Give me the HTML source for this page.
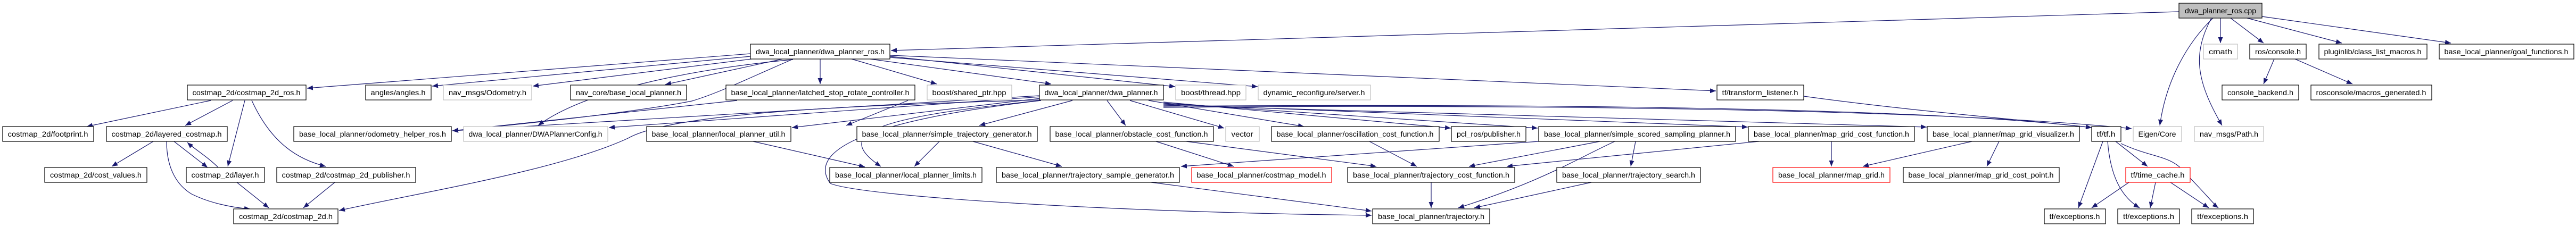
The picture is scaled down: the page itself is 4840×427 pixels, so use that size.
<!DOCTYPE html>
<html><head><meta charset="utf-8"><style>
html,body{margin:0;padding:0;background:#fff;width:4840px;height:427px;overflow:hidden}
svg{display:block}
text{font-family:"Liberation Sans",sans-serif;font-size:14px;fill:#000}
.b{fill:#fff;stroke:#000;stroke-width:1.2}
.g{fill:#fff;stroke:#bfbfbf;stroke-width:1.2}
.r{fill:#fff;stroke:#ff0000;stroke-width:1.2}
path.e{fill:none;stroke:#191970;stroke-width:1.2;marker-end:url(#a)}
</style></head><body>
<svg width="4840" height="427" viewBox="0 0 4840 427" xmlns="http://www.w3.org/2000/svg">
<defs><marker id="a" markerUnits="userSpaceOnUse" markerWidth="11" markerHeight="9" refX="11" refY="4.5" orient="auto"><path d="M0,0 L11,4.5 L0,9 z" fill="#191970"/></marker></defs>
<g>
<path class="e" d="M4094,22 L1674,95"/>
<path class="e" d="M4172,34 L4172,81"/>
<path class="e" d="M4191,34 L4253,81"/>
<path class="e" d="M4222,34 L4400,81"/>
<path class="e" d="M4250,31 L4605,81"/>
<path class="e" d="M4158,34 C4110,80 4070,150 4058,236"/>
<path class="e" d="M4155,34 C4120,100 4125,150 4175,236"/>
<path class="e" d="M1672,104 C2400,135 3000,165 3224,171"/>
<path class="e" d="M1410,101 L577,166"/>
<path class="e" d="M1410,106 L812,162"/>
<path class="e" d="M1412,111 L1001,162"/>
<path class="e" d="M1470,111 L1250,159"/>
<path class="e" d="M1541,111 L1541,158"/>
<path class="e" d="M1600,111 L1760,158"/>
<path class="e" d="M1635,111 L1975,158"/>
<path class="e" d="M1672,106 L2208,163"/>
<path class="e" d="M1672,108 L2363,163"/>
<path class="e" d="M1490,112 C1300,130 1100,170 1011,236"/>
<path class="e" d="M1488,112 C1400,150 1350,175 1300,190 C1200,210 1000,232 850,246"/>
<path class="e" d="M1955,188 C1500,200 1250,220 1180,260 C1050,320 800,360 637,396"/>
<path class="e" d="M1955,185 L1488,240"/>
<path class="e" d="M1955,182 L1144,240"/>
<path class="e" d="M1953,180 L850,246"/>
<path class="e" d="M1955,189 C1650,220 1560,250 1655,313"/>
<path class="e" d="M1956,189 C1600,230 1520,290 1560,345 C1620,370 2100,400 2577,405"/>
<path class="e" d="M2015,189 L1840,236"/>
<path class="e" d="M2080,189 L2115,236"/>
<path class="e" d="M2123,189 L2300,241"/>
<path class="e" d="M2158,189 L2450,238"/>
<path class="e" d="M2186,192 L2726,241"/>
<path class="e" d="M2186,194 L2889,241"/>
<path class="e" d="M2186,196 L3284,239"/>
<path class="e" d="M2186,198 L3620,239"/>
<path class="e" d="M2186,200 C2800,195 3600,200 3930,240"/>
<path class="e" d="M2186,202 C3000,195 3700,210 4005,242"/>
<path class="e" d="M1706,189 L1590,236"/>
<path class="e" d="M1385,189 L850,246"/>
<path class="e" d="M1415,266 L1625,314"/>
<path class="e" d="M1765,266 L1718,313"/>
<path class="e" d="M1828,266 L1995,313"/>
<path class="e" d="M2172,266 L2318,313"/>
<path class="e" d="M2229,266 L2586,313"/>
<path class="e" d="M2573,266 L2662,313"/>
<path class="e" d="M3006,266 L2760,313"/>
<path class="e" d="M3073,266 L3064,313"/>
<path class="e" d="M3034,266 C2960,300 2900,340 2740,391"/>
<path class="e" d="M2891,266 L2219,313"/>
<path class="e" d="M3305,266 L2831,313"/>
<path class="e" d="M3441,266 L3441,313"/>
<path class="e" d="M3705,266 L3500,313"/>
<path class="e" d="M3756,266 L3733,313"/>
<path class="e" d="M2163,343 L2577,397"/>
<path class="e" d="M2689,343 L2689,391"/>
<path class="e" d="M2990,343 L2770,391"/>
<path class="e" d="M3389,181 C3600,210 3800,225 3930,240"/>
<path class="e" d="M3951,266 L3905,391"/>
<path class="e" d="M3960,266 C3965,330 3985,370 4020,391"/>
<path class="e" d="M3975,266 L4035,313"/>
<path class="e" d="M3985,270 C4050,300 4080,290 4110,330 C4140,360 4160,385 4168,391"/>
<path class="e" d="M4000,343 L3930,391"/>
<path class="e" d="M4050,343 L4040,391"/>
<path class="e" d="M4078,343 L4150,391"/>
<path class="e" d="M4273,111 L4253,158"/>
<path class="e" d="M4312,111 L4420,158"/>
<path class="e" d="M396,189 L163,238"/>
<path class="e" d="M437,189 L348,236"/>
<path class="e" d="M460,189 L428,313"/>
<path class="e" d="M473,189 C510,270 560,300 612,313"/>
<path class="e" d="M288,266 L210,313"/>
<path class="e" d="M327,266 L390,315"/>
<path class="e" d="M410,315 C390,295 365,280 352,268"/>
<path class="e" d="M313,266 C313,320 335,350 360,365 C390,380 430,390 470,393"/>
<path class="e" d="M445,343 L505,391"/>
<path class="e" d="M629,343 L570,391"/>
</g>
<g>
<rect x="4094" y="6" width="156" height="28" fill="#bfbfbf" stroke="#000" stroke-width="1.2"/><text x="4172" y="25" text-anchor="middle" textLength="134" lengthAdjust="spacingAndGlyphs">dwa_planner_ros.cpp</text>
<rect class="b" x="1410" y="83" width="262" height="28"/><text x="1541" y="102" text-anchor="middle" textLength="242" lengthAdjust="spacingAndGlyphs">dwa_local_planner/dwa_planner_ros.h</text>
<rect class="g" x="4140" y="83" width="64" height="28"/><text x="4172" y="102" text-anchor="middle" textLength="44" lengthAdjust="spacingAndGlyphs">cmath</text>
<rect class="b" x="4227" y="83" width="106" height="28"/><text x="4280" y="102" text-anchor="middle" textLength="86" lengthAdjust="spacingAndGlyphs">ros/console.h</text>
<rect class="b" x="4357" y="83" width="203" height="28"/><text x="4458" y="102" text-anchor="middle" textLength="183" lengthAdjust="spacingAndGlyphs">pluginlib/class_list_macros.h</text>
<rect class="b" x="4583" y="83" width="253" height="28"/><text x="4709" y="102" text-anchor="middle" textLength="233" lengthAdjust="spacingAndGlyphs">base_local_planner/goal_functions.h</text>

<rect class="b" x="352" y="160" width="223" height="28"/><text x="463" y="179" text-anchor="middle" textLength="203" lengthAdjust="spacingAndGlyphs">costmap_2d/costmap_2d_ros.h</text>
<rect class="b" x="687" y="160" width="123" height="28"/><text x="748" y="179" text-anchor="middle" textLength="103" lengthAdjust="spacingAndGlyphs">angles/angles.h</text>
<rect class="g" x="833" y="160" width="166" height="28"/><text x="916" y="179" text-anchor="middle" textLength="146" lengthAdjust="spacingAndGlyphs">nav_msgs/Odometry.h</text>
<rect class="b" x="1072" y="160" width="218" height="28"/><text x="1181" y="179" text-anchor="middle" textLength="198" lengthAdjust="spacingAndGlyphs">nav_core/base_local_planner.h</text>
<rect class="b" x="1364" y="160" width="355" height="28"/><text x="1541" y="179" text-anchor="middle" textLength="335" lengthAdjust="spacingAndGlyphs">base_local_planner/latched_stop_rotate_controller.h</text>
<rect class="g" x="1742" y="160" width="159" height="28"/><text x="1821" y="179" text-anchor="middle" textLength="139" lengthAdjust="spacingAndGlyphs">boost/shared_ptr.hpp</text>
<rect class="b" x="1953" y="160" width="233" height="28"/><text x="2069" y="179" text-anchor="middle" textLength="213" lengthAdjust="spacingAndGlyphs">dwa_local_planner/dwa_planner.h</text>
<rect class="g" x="2209" y="160" width="132" height="28"/><text x="2275" y="179" text-anchor="middle" textLength="112" lengthAdjust="spacingAndGlyphs">boost/thread.hpp</text>
<rect class="g" x="2364" y="160" width="211" height="28"/><text x="2469" y="179" text-anchor="middle" textLength="191" lengthAdjust="spacingAndGlyphs">dynamic_reconfigure/server.h</text>
<rect class="b" x="3226" y="160" width="163" height="28"/><text x="3307" y="179" text-anchor="middle" textLength="143" lengthAdjust="spacingAndGlyphs">tf/transform_listener.h</text>
<rect class="b" x="4175" y="160" width="144" height="28"/><text x="4247" y="179" text-anchor="middle" textLength="124" lengthAdjust="spacingAndGlyphs">console_backend.h</text>
<rect class="b" x="4342" y="160" width="227" height="28"/><text x="4455" y="179" text-anchor="middle" textLength="207" lengthAdjust="spacingAndGlyphs">rosconsole/macros_generated.h</text>

<rect class="b" x="5" y="238" width="171" height="28"/><text x="90" y="257" text-anchor="middle" textLength="151" lengthAdjust="spacingAndGlyphs">costmap_2d/footprint.h</text>
<rect class="b" x="200" y="238" width="227" height="28"/><text x="313" y="257" text-anchor="middle" textLength="207" lengthAdjust="spacingAndGlyphs">costmap_2d/layered_costmap.h</text>
<rect class="b" x="552" y="238" width="296" height="28"/><text x="700" y="257" text-anchor="middle" textLength="276" lengthAdjust="spacingAndGlyphs">base_local_planner/odometry_helper_ros.h</text>
<rect class="g" x="871" y="238" width="271" height="28"/><text x="1006" y="257" text-anchor="middle" textLength="251" lengthAdjust="spacingAndGlyphs">dwa_local_planner/DWAPlannerConfig.h</text>
<rect class="b" x="1215" y="238" width="271" height="28"/><text x="1350" y="257" text-anchor="middle" textLength="251" lengthAdjust="spacingAndGlyphs">base_local_planner/local_planner_util.h</text>
<rect class="b" x="1610" y="238" width="339" height="28"/><text x="1779" y="257" text-anchor="middle" textLength="319" lengthAdjust="spacingAndGlyphs">base_local_planner/simple_trajectory_generator.h</text>
<rect class="b" x="1973" y="238" width="307" height="28"/><text x="2126" y="257" text-anchor="middle" textLength="287" lengthAdjust="spacingAndGlyphs">base_local_planner/obstacle_cost_function.h</text>
<rect class="g" x="2303" y="238" width="63" height="28"/><text x="2334" y="257" text-anchor="middle" textLength="41" lengthAdjust="spacingAndGlyphs">vector</text>
<rect class="b" x="2389" y="238" width="315" height="28"/><text x="2546" y="257" text-anchor="middle" textLength="295" lengthAdjust="spacingAndGlyphs">base_local_planner/oscillation_cost_function.h</text>
<rect class="b" x="2727" y="238" width="140" height="28"/><text x="2797" y="257" text-anchor="middle" textLength="120" lengthAdjust="spacingAndGlyphs">pcl_ros/publisher.h</text>
<rect class="b" x="2891" y="238" width="370" height="28"/><text x="3076" y="257" text-anchor="middle" textLength="350" lengthAdjust="spacingAndGlyphs">base_local_planner/simple_scored_sampling_planner.h</text>
<rect class="b" x="3285" y="238" width="312" height="28"/><text x="3441" y="257" text-anchor="middle" textLength="292" lengthAdjust="spacingAndGlyphs">base_local_planner/map_grid_cost_function.h</text>
<rect class="b" x="3621" y="238" width="286" height="28"/><text x="3764" y="257" text-anchor="middle" textLength="266" lengthAdjust="spacingAndGlyphs">base_local_planner/map_grid_visualizer.h</text>
<rect class="b" x="3930" y="238" width="55" height="28"/><text x="3957" y="257" text-anchor="middle" textLength="35" lengthAdjust="spacingAndGlyphs">tf/tf.h</text>
<rect class="g" x="4008" y="238" width="91" height="28"/><text x="4053" y="257" text-anchor="middle" textLength="71" lengthAdjust="spacingAndGlyphs">Eigen/Core</text>
<rect class="g" x="4123" y="238" width="130" height="28"/><text x="4188" y="257" text-anchor="middle" textLength="110" lengthAdjust="spacingAndGlyphs">nav_msgs/Path.h</text>

<rect class="b" x="84" y="315" width="192" height="28"/><text x="180" y="334" text-anchor="middle" textLength="172" lengthAdjust="spacingAndGlyphs">costmap_2d/cost_values.h</text>
<rect class="b" x="350" y="315" width="147" height="28"/><text x="423" y="334" text-anchor="middle" textLength="127" lengthAdjust="spacingAndGlyphs">costmap_2d/layer.h</text>
<rect class="b" x="520" y="315" width="261" height="28"/><text x="650" y="334" text-anchor="middle" textLength="241" lengthAdjust="spacingAndGlyphs">costmap_2d/costmap_2d_publisher.h</text>
<rect class="b" x="1559" y="315" width="286" height="28"/><text x="1702" y="334" text-anchor="middle" textLength="266" lengthAdjust="spacingAndGlyphs">base_local_planner/local_planner_limits.h</text>
<rect class="b" x="1872" y="315" width="344" height="28"/><text x="2044" y="334" text-anchor="middle" textLength="324" lengthAdjust="spacingAndGlyphs">base_local_planner/trajectory_sample_generator.h</text>
<rect class="r" x="2239" y="315" width="263" height="28"/><text x="2370" y="334" text-anchor="middle" textLength="243" lengthAdjust="spacingAndGlyphs">base_local_planner/costmap_model.h</text>
<rect class="b" x="2532" y="315" width="314" height="28"/><text x="2689" y="334" text-anchor="middle" textLength="294" lengthAdjust="spacingAndGlyphs">base_local_planner/trajectory_cost_function.h</text>
<rect class="b" x="2925" y="315" width="270" height="28"/><text x="3060" y="334" text-anchor="middle" textLength="250" lengthAdjust="spacingAndGlyphs">base_local_planner/trajectory_search.h</text>
<rect class="r" x="3331" y="315" width="220" height="28"/><text x="3441" y="334" text-anchor="middle" textLength="200" lengthAdjust="spacingAndGlyphs">base_local_planner/map_grid.h</text>
<rect class="b" x="3576" y="315" width="293" height="28"/><text x="3722" y="334" text-anchor="middle" textLength="273" lengthAdjust="spacingAndGlyphs">base_local_planner/map_grid_cost_point.h</text>
<rect class="r" x="3994" y="315" width="121" height="28"/><text x="4054" y="334" text-anchor="middle" textLength="101" lengthAdjust="spacingAndGlyphs">tf/time_cache.h</text>

<rect class="b" x="439" y="393" width="196" height="28"/><text x="537" y="412" text-anchor="middle" textLength="176" lengthAdjust="spacingAndGlyphs">costmap_2d/costmap_2d.h</text>
<rect class="b" x="2579" y="393" width="220" height="28"/><text x="2689" y="412" text-anchor="middle" textLength="200" lengthAdjust="spacingAndGlyphs">base_local_planner/trajectory.h</text>
<rect class="b" x="3841" y="393" width="115" height="28"/><text x="3898" y="412" text-anchor="middle" textLength="95" lengthAdjust="spacingAndGlyphs">tf/exceptions.h</text>
<rect class="b" x="3979" y="393" width="116" height="28"/><text x="4037" y="412" text-anchor="middle" textLength="96" lengthAdjust="spacingAndGlyphs">tf/exceptions.h</text>
<rect class="b" x="4118" y="393" width="116" height="28"/><text x="4176" y="412" text-anchor="middle" textLength="96" lengthAdjust="spacingAndGlyphs">tf/exceptions.h</text>
</g>
</svg>
</body></html>
